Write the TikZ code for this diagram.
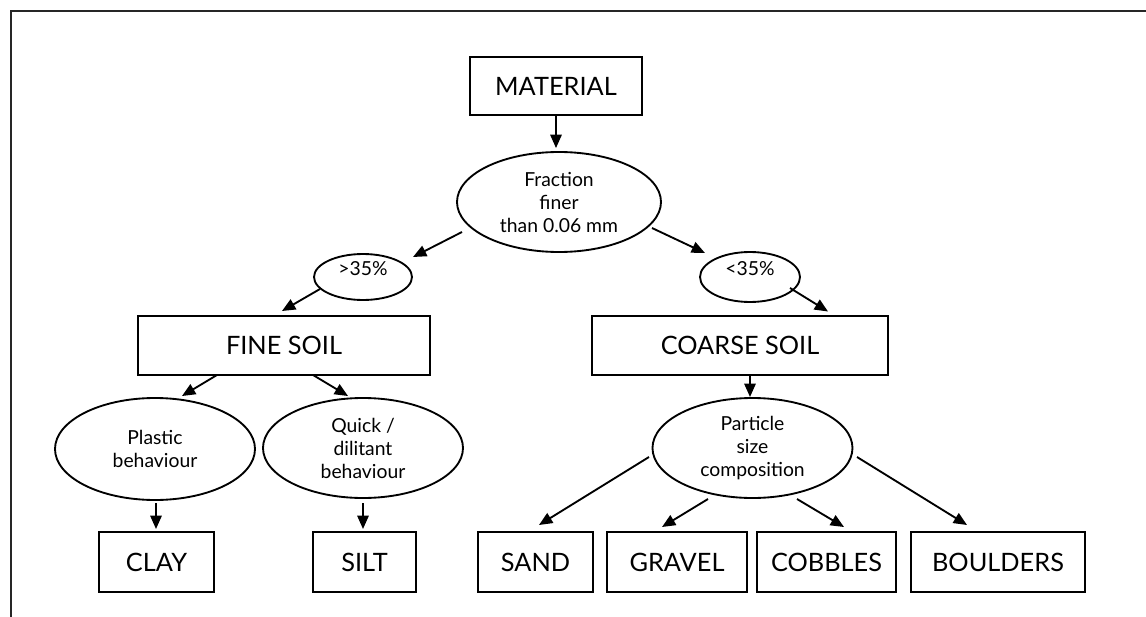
\documentclass[tikz,border=0pt]{standalone}
\usepackage{fontspec}
\setmainfont{Lato}
\usetikzlibrary{shapes.geometric,arrows.meta,calc}
\begin{document}
\begin{tikzpicture}[x=0.75pt,y=-0.75pt,
  box/.style={draw, line width=1.8pt, rectangle, inner sep=0pt, font=\fontsize{19}{22}\selectfont},
  ell/.style={draw, line width=1.4pt, ellipse, inner sep=0pt, align=center, font=\fontsize{14.5}{17.25}\selectfont},
  small/.style={ell, text height=10pt, text depth=12pt},
  arr/.style={line width=1.4pt, -{Triangle[length=10pt,width=8.5pt]}},
  frameline/.style={line width=1.8pt, draw=black!85}]
\useasboundingbox (0,0) rectangle (1146,617);
% frame
\coordinate (fbl) at (11,617);
\coordinate (ftl) at (11,11);
\coordinate (ftr) at (1146,11);
\draw[frameline] (fbl) -- (ftl) -- (ftr);
% boxes
\node[box, minimum width=129pt, minimum height=43.5pt] (mat) at (556,86) {MATERIAL};
\node[box, minimum width=219pt, minimum height=44.25pt] (fine) at (284,345.5) {FINE SOIL};
\node[box, minimum width=222pt, minimum height=44.25pt] (coarse) at (740,345.5) {COARSE SOIL};
\node[box, minimum width=86.25pt, minimum height=45pt] (clay) at (156.5,562) {CLAY};
\node[box, minimum width=77.25pt, minimum height=45pt] (silt) at (364.5,562) {SILT};
\node[box, minimum width=86.25pt, minimum height=45pt] (sand) at (535.5,562) {SAND};
\node[box, minimum width=105pt, minimum height=45pt] (gravel) at (677,562) {GRAVEL};
\node[box, minimum width=104.25pt, minimum height=45pt] (cobbles) at (826.5,562) {COBBLES};
\node[box, minimum width=130.5pt, minimum height=45pt] (boulders) at (998,562) {BOULDERS};
% ellipses
\node[ell, minimum width=153pt, minimum height=75pt] (frac) at (559,202) {Fraction\\finer\\than 0.06 mm};
\node[small, minimum width=73.5pt, minimum height=34.5pt] (gt) at (363,277) {>35\%};
\node[small, minimum width=75pt, minimum height=37.5pt] (lt) at (750,277) {<35\%};
\node[ell, minimum width=150pt, minimum height=76.5pt] (plastic) at (155,449) {Plastic\\behaviour};
\node[ell, minimum width=150pt, minimum height=75pt] (quick) at (363,448) {Quick /\\dilitant\\behaviour};
\node[ell, minimum width=150pt, minimum height=75pt] (particle) at (752.5,448) {Particle\\size\\composition};
% connectors
\draw[arr] (mat.south) -- ($(mat.south |- frac.north)+(0,-3)$);
\draw[arr] ($(frac)+(-97,30)$) -- ($(gt)+(50,-20)$);
\draw[arr] ($(frac)+(93,26)$) -- ($(lt)+(-45,-24)$);
\draw[arr] ($(gt)+(-43,12)$) -- ($(fine)+(-2,-34.5)$);
\draw[arr] ($(lt)+(40,11)$) -- ($(coarse)+(88,-34)$);
\draw[arr] ($(fine)+(-67,29.5)$) -- ($(plastic)+(27,-53)$);
\draw[arr] ($(fine)+(29,29.5)$) -- ($(quick)+(-15,-52)$);
\draw[arr] ($(coarse)+(10,30)$) -- ($(particle)+(-2.5,-51)$);
\draw[arr] ($(plastic)+(1,54)$) -- ($(clay)+(-0.5,-33)$);
\draw[arr] ($(quick)+(0,55)$) -- ($(silt)+(-1.5,-33)$);
\draw[arr] ($(particle)+(-103.5,9)$) -- ($(sand)+(3.5,-37)$);
\draw[arr] ($(particle)+(-44.5,51)$) -- ($(gravel)+(-15,-35)$);
\draw[arr] ($(particle)+(44.5,51)$) -- ($(cobbles)+(17.5,-35)$);
\draw[arr] ($(particle)+(104.5,9)$) -- ($(boulders)+(-31,-37)$);
\end{tikzpicture}
\end{document}
